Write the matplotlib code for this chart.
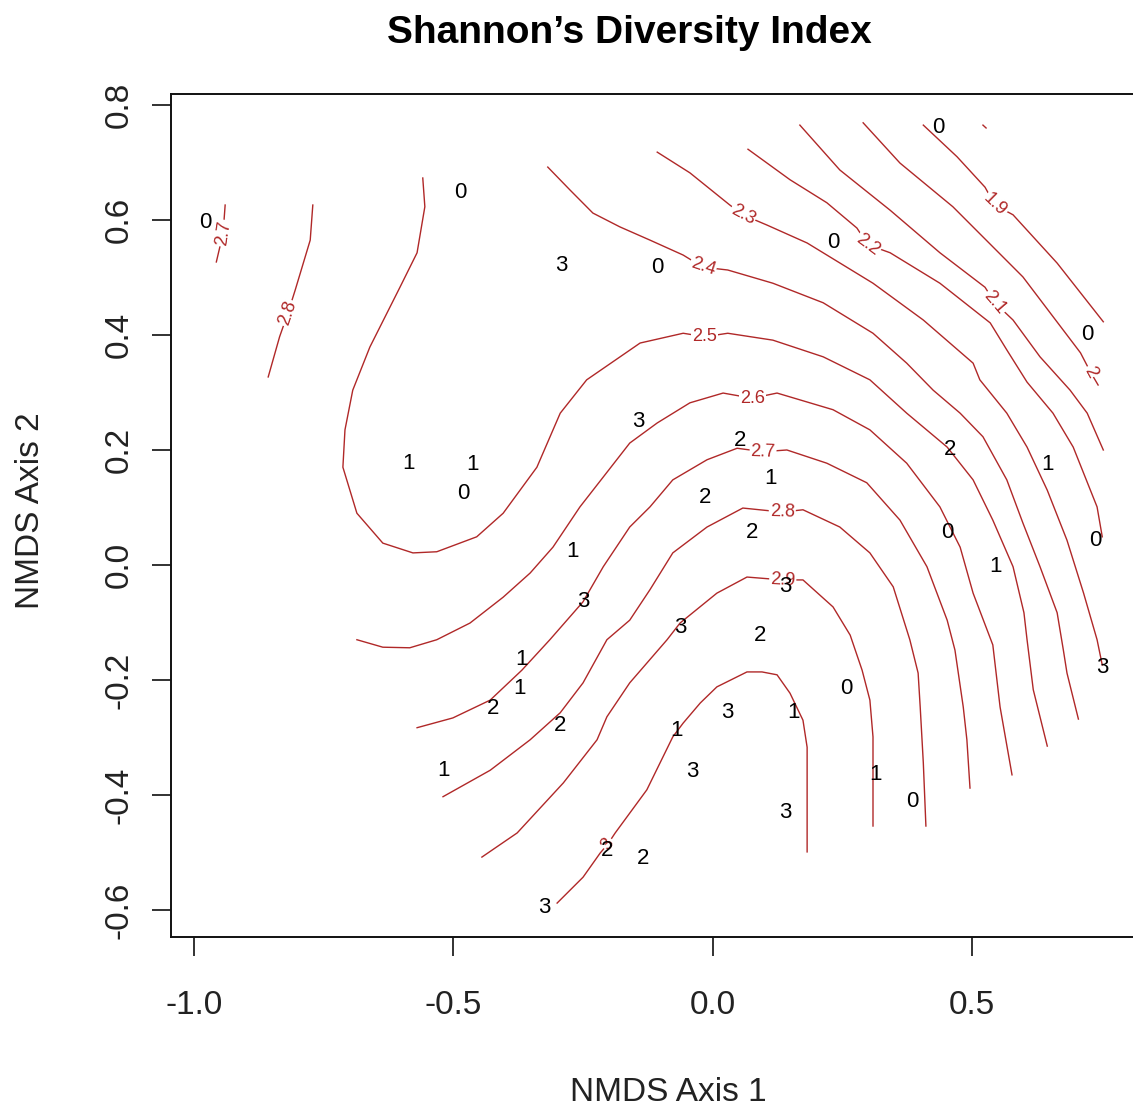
import math

import matplotlib
matplotlib.use("Agg")
import matplotlib.pyplot as plt

plt.rcParams["font.family"] = ["Liberation Sans", "DejaVu Sans"]

# NMDS site scores, labelled by their class
site_x = [0.434, -0.487, -0.979, -0.291, -0.107, 0.232, 0.722, -0.144, 0.053, -0.587,
          -0.464, -0.481, 0.111, -0.015, 0.457, 0.646, 0.452, 0.076, 0.737, -0.271,
          0.546, -0.250, 0.139, -0.063, 0.091, 0.751, -0.368, -0.373, -0.424, 0.257,
          0.029, 0.155, -0.294, -0.069, -0.520, -0.040, 0.314, 0.384, 0.139, -0.204,
          -0.134, -0.325]
site_y = [0.760, 0.647, 0.595, 0.520, 0.517, 0.560, 0.400, 0.249, 0.217, 0.177,
          0.174, 0.125, 0.151, 0.117, 0.200, 0.174, 0.057, 0.056, 0.043, 0.023,
          -0.003, -0.064, -0.038, -0.108, -0.122, -0.179, -0.165, -0.214, -0.249, -0.214,
          -0.257, -0.256, -0.280, -0.287, -0.357, -0.360, -0.365, -0.412, -0.431, -0.496,
          -0.510, -0.595]
site_lab = ["0", "0", "0", "3", "0", "0", "0", "3", "2", "1",
            "1", "0", "1", "2", "2", "1", "0", "2", "0", "1",
            "1", "3", "3", "3", "2", "3", "1", "1", "2", "0",
            "3", "1", "2", "1", "1", "3", "1", "0", "3", "2",
            "2", "3"]

# fitted surface contours (Shannon index)
c18_x = [0.521, 0.527]
c18_y = [0.765, 0.760]
c19_x = [0.406, 0.471, 0.525, 0.544, 0.579, 0.664, 0.753]
c19_y = [0.765, 0.710, 0.657, 0.626, 0.609, 0.525, 0.423]
c20_x = [0.290, 0.361, 0.463, 0.598, 0.709, 0.728, 0.743]
c20_y = [0.769, 0.699, 0.623, 0.501, 0.369, 0.336, 0.313]
c21_x = [0.168, 0.245, 0.342, 0.438, 0.525, 0.544, 0.579, 0.631, 0.689, 0.722, 0.753]
c21_y = [0.765, 0.687, 0.617, 0.543, 0.483, 0.456, 0.426, 0.362, 0.304, 0.264, 0.200]
c22_x = [0.068, 0.149, 0.220, 0.278, 0.299, 0.342, 0.438, 0.535, 0.567, 0.606, 0.656,
         0.695, 0.741, 0.751]
c22_y = [0.723, 0.670, 0.630, 0.586, 0.557, 0.543, 0.490, 0.421, 0.374, 0.318, 0.264,
         0.205, 0.101, 0.049]
c23_x = [-0.107, -0.044, 0.033, 0.058, 0.105, 0.182, 0.309, 0.406, 0.502, 0.515, 0.567,
         0.606, 0.645, 0.683, 0.715, 0.741, 0.751]
c23_y = [0.718, 0.682, 0.626, 0.609, 0.591, 0.560, 0.490, 0.426, 0.351, 0.322, 0.264,
         0.205, 0.130, 0.043, -0.049, -0.130, -0.174]
c24_x = [-0.318, -0.275, -0.231, -0.179, -0.121, -0.057, -0.019, 0.029, 0.116, 0.213,
         0.309, 0.374, 0.425, 0.477, 0.521, 0.567, 0.598, 0.631, 0.664, 0.676, 0.683, 0.705]
c24_y = [0.692, 0.652, 0.612, 0.588, 0.565, 0.539, 0.518, 0.513, 0.490, 0.456,
         0.403, 0.351, 0.304, 0.264, 0.223, 0.148, 0.073, -0.003, -0.083, -0.148, -0.188, -0.268]
c25_x = [-0.559, -0.555, -0.570, -0.603, -0.661, -0.694, -0.709, -0.713, -0.686, -0.636,
         -0.578, -0.532, -0.455, -0.404, -0.339, -0.294, -0.243, -0.140, -0.057, -0.015,
         0.029, 0.116, 0.213, 0.303, 0.374, 0.452, 0.502, 0.540, 0.579, 0.600, 0.606,
         0.618, 0.645]
c25_y = [0.673, 0.623, 0.543, 0.483, 0.379, 0.304, 0.235, 0.170, 0.090, 0.038,
         0.021, 0.023, 0.049, 0.090, 0.170, 0.264, 0.322, 0.386, 0.403, 0.397,
         0.403, 0.391, 0.362, 0.322, 0.264, 0.205, 0.148, 0.078, -0.003, -0.083, -0.130,
         -0.217, -0.315]
c26_x = [-0.686, -0.636, -0.584, -0.532, -0.468, -0.404, -0.352, -0.308, -0.256, -0.211,
         -0.160, -0.107, -0.044, 0.020, 0.076, 0.124, 0.232, 0.303, 0.374, 0.438, 0.477,
         0.502, 0.540, 0.554, 0.577]
c26_y = [-0.130, -0.143, -0.144, -0.130, -0.101, -0.056, -0.014, 0.031, 0.101, 0.153,
         0.212, 0.247, 0.282, 0.299, 0.290, 0.299, 0.270, 0.235, 0.177, 0.101, 0.031,
         -0.049, -0.139, -0.247, -0.365]
c27_x = [-0.570, -0.501, -0.429, -0.368, -0.314, -0.250, -0.211, -0.160, -0.121, -0.077,
         -0.011, 0.047, 0.097, 0.143, 0.220, 0.297, 0.361, 0.413, 0.452, 0.467, 0.483,
         0.490, 0.496]
c27_y = [-0.283, -0.266, -0.235, -0.183, -0.130, -0.064, -0.003, 0.066, 0.101, 0.148,
         0.183, 0.203, 0.197, 0.200, 0.177, 0.143, 0.078, -0.003, -0.096, -0.148, -0.247,
         -0.304, -0.388]
c28_x = [-0.520, -0.429, -0.352, -0.294, -0.250, -0.204, -0.160, -0.121, -0.077, -0.011,
         0.058, 0.134, 0.174, 0.245, 0.303, 0.348, 0.380, 0.396, 0.400, 0.406, 0.411]
c28_y = [-0.403, -0.357, -0.304, -0.257, -0.205, -0.130, -0.096, -0.043, 0.021, 0.066,
         0.099, 0.092, 0.096, 0.066, 0.021, -0.038, -0.130, -0.188, -0.247, -0.344, -0.454]
c29_x = [-0.445, -0.377, -0.288, -0.223, -0.204, -0.160, -0.088, -0.063, 0.008, 0.066,
         0.135, 0.174, 0.232, 0.265, 0.288, 0.303, 0.309, 0.309]
c29_y = [-0.508, -0.466, -0.379, -0.304, -0.264, -0.205, -0.130, -0.101, -0.049, -0.021,
         -0.026, -0.026, -0.073, -0.122, -0.183, -0.235, -0.299, -0.454]
c30_x = [-0.300, -0.250, -0.217, -0.202, -0.188, -0.127, -0.077, -0.057, -0.024, 0.008,
         0.066, 0.095, 0.124, 0.149, 0.174, 0.182, 0.182]
c30_y = [-0.588, -0.543, -0.501, -0.485, -0.466, -0.391, -0.299, -0.275, -0.240, -0.212,
         -0.186, -0.186, -0.191, -0.223, -0.270, -0.317, -0.499]
c27w_x = [-0.940, -0.944, -0.957]
c27w_y = [0.626, 0.577, 0.527]
c28w_x = [-0.771, -0.776, -0.805, -0.819, -0.835, -0.857]
c28w_y = [0.626, 0.565, 0.478, 0.438, 0.397, 0.327]

# (level, x, y, vertex index where the level label sits)
contours = [
    (1.8, c18_x, c18_y, None),
    (1.9, c19_x, c19_y, 3),
    (2.0, c20_x, c20_y, 5),
    (2.1, c21_x, c21_y, 5),
    (2.2, c22_x, c22_y, 4),
    (2.3, c23_x, c23_y, 3),
    (2.4, c24_x, c24_y, 6),
    (2.5, c25_x, c25_y, 19),
    (2.6, c26_x, c26_y, 14),
    (2.7, c27_x, c27_y, 12),
    (2.8, c28_x, c28_y, 11),
    (2.9, c29_x, c29_y, 10),
    (3.0, c30_x, c30_y, 3),
    (2.7, c27w_x, c27w_y, 1),
    (2.8, c28w_x, c28w_y, 3),
]

W, H = 1133, 1106
fig = plt.figure(figsize=(W / 100, H / 100), dpi=100)
ax = fig.add_axes([171 / W, (H - 937) / H, (1163 - 171) / W, (937 - 94) / H])
ax.set_xlim(-1.0444, 0.8681)
ax.set_ylim(-0.6470, 0.8191)

line_col = "#b02828"

for lev, xs, ys, li in contours:
    ax.plot(xs, ys, color=line_col, lw=1.0, zorder=2, solid_joinstyle="round")
    if li is None:
        continue
    p0 = ax.transData.transform((xs[li - 1], ys[li - 1]))
    p1 = ax.transData.transform((xs[min(li + 1, len(xs) - 1)], ys[min(li + 1, len(ys) - 1)]))
    ang = math.degrees(math.atan2(p1[1] - p0[1], p1[0] - p0[0]))
    if ang > 90:
        ang -= 180
    elif ang < -90:
        ang += 180
    ax.text(xs[li], ys[li], f"{lev:g}", color=line_col, fontsize=13, rotation=ang,
            rotation_mode="anchor", ha="center", va="center", zorder=3,
            bbox=dict(facecolor="white", edgecolor="none", pad=0.8))

for x, y, s in zip(site_x, site_y, site_lab):
    ax.text(x, y, s, fontsize=16, ha="center", va="center", color="black", zorder=5)

ax.set_xticks([-1.0, -0.5, 0.0, 0.5])
ax.set_yticks([-0.6, -0.4, -0.2, 0.0, 0.2, 0.4, 0.6, 0.8])
ax.set_xticklabels(["-1.0", "-0.5", "0.0", "0.5"])
ax.set_yticklabels(["-0.6", "-0.4", "-0.2", "0.0", "0.2", "0.4", "0.6", "0.8"])
ax.tick_params(direction="out", length=14, width=1.3, labelsize=24, color="#222222",
               labelcolor="#222222")
ax.tick_params(axis="x", pad=24)
ax.tick_params(axis="y", pad=12, labelrotation=90)
for lab in ax.get_yticklabels():
    lab.set_va("center")
for sp in ax.spines.values():
    sp.set_linewidth(1.4)
    sp.set_color("#111111")

fig.text(629 / W, 1 - 43 / H, "Shannon\u2019s Diversity Index", fontsize=28,
         fontweight="bold", ha="center", va="baseline")
fig.text(668 / W, 1 - 1101 / H, "NMDS Axis 1", fontsize=24, ha="center", va="baseline",
         color="#222222")
fig.text(31 / W, 1 - 511 / H, "NMDS Axis 2", fontsize=24, ha="center", va="center",
         rotation=90, color="#222222")

fig.savefig("out.png", dpi=100)
